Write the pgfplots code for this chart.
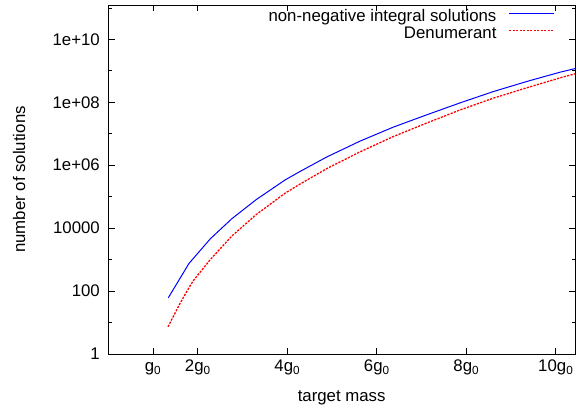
\documentclass[border=0pt]{standalone}
\usepackage{fontspec}
\setmainfont{Liberation Sans}
\usepackage{pgfplots}
\pgfplotsset{compat=1.18}
\begin{document}
\begin{tikzpicture}[font=\fontsize{16.8}{20}\selectfont]
\begin{axis}[
 at={(0pt,0pt)}, anchor=south west,
 scale only axis, width=466.7pt, height=349pt,
 xmin=0, xmax=10.43, ymode=log, ymin=1, ymax=1.23e11,
 axis line style={line width=0.9pt},
 tick style={black, line width=0.6pt},
 major tick length=6.5pt, minor tick length=3.3pt,
 tick align=inside, xtick pos=both, ytick pos=both,
 xtick={1,2,4,6,8,10},
 xticklabels={g\textsubscript{0},2g\textsubscript{0},4g\textsubscript{0},6g\textsubscript{0},8g\textsubscript{0},10g\textsubscript{0}},
 ytick={1,1e2,1e4,1e6,1e8,1e10},
 minor ytick={1e1,1e3,1e5,1e7,1e9,1e11},
 yticklabels={1,100,10000,1e+06,1e+08,1e+10},
 xticklabel style={anchor=base, yshift=-17.7pt, inner sep=0pt},
 yticklabel style={anchor=east, inner sep=0pt, xshift=-8.3pt},
 xlabel={target mass}, ylabel={number of solutions},
 xlabel style={at={(axis description cs:0.5,-0.136)}, anchor=base},
 ylabel style={at={(axis description cs:-0.1913,0.5)}, anchor=center},
 legend style={draw=none, fill=none, at={(rel axis cs:0.957,0.988)}, anchor=north east, inner sep=0pt,
   nodes={inner sep=0pt, text height=12pt, text depth=5pt}, column sep=12pt},
 legend cell align=right,
 legend plot pos=right,
 legend image code/.code={\draw[#1] (0pt,4.4pt) -- (45pt,4.4pt);},
]
\addplot[blue, line width=1pt] coordinates {
 (1.341,61.24) (1.804,756.8) (2.28,4571) (2.758,19724) (3.30,79433)
 (3.95,338844) (4.285,630957) (4.881,1819701) (5.627,5821032) (6.371,16218101)
 (7.117,39810717) (7.862,95499259) (8.607,2.1878e8) (9.353,4.5709e8)
 (10.098,9.0157e8) (10.433,1.1749e9)
};
\addlegendentry{non-negative integral solutions}
\addplot[red, line width=1.3pt, dash pattern=on 2.2pt off 1.3pt] coordinates {
 (1.334,7.328) (1.603,40.64) (1.804,128.8) (1.900,213.8) (2.273,977.2)
 (2.758,5559) (3.30,26546) (3.95,128825) (4.285,251189) (4.881,776247)
 (5.627,2660725) (6.371,8128305) (7.117,21877616) (7.862,56885293)
 (8.607,1.3490e8) (9.353,2.8840e8) (10.098,5.9566e8) (10.433,8.0353e8)
};
\addlegendentry{Denumerant}
\end{axis}
\pgfresetboundingbox
\path[use as bounding box] (-108.3pt,-57pt) rectangle (476.7pt,354pt);
\end{tikzpicture}
\end{document}
